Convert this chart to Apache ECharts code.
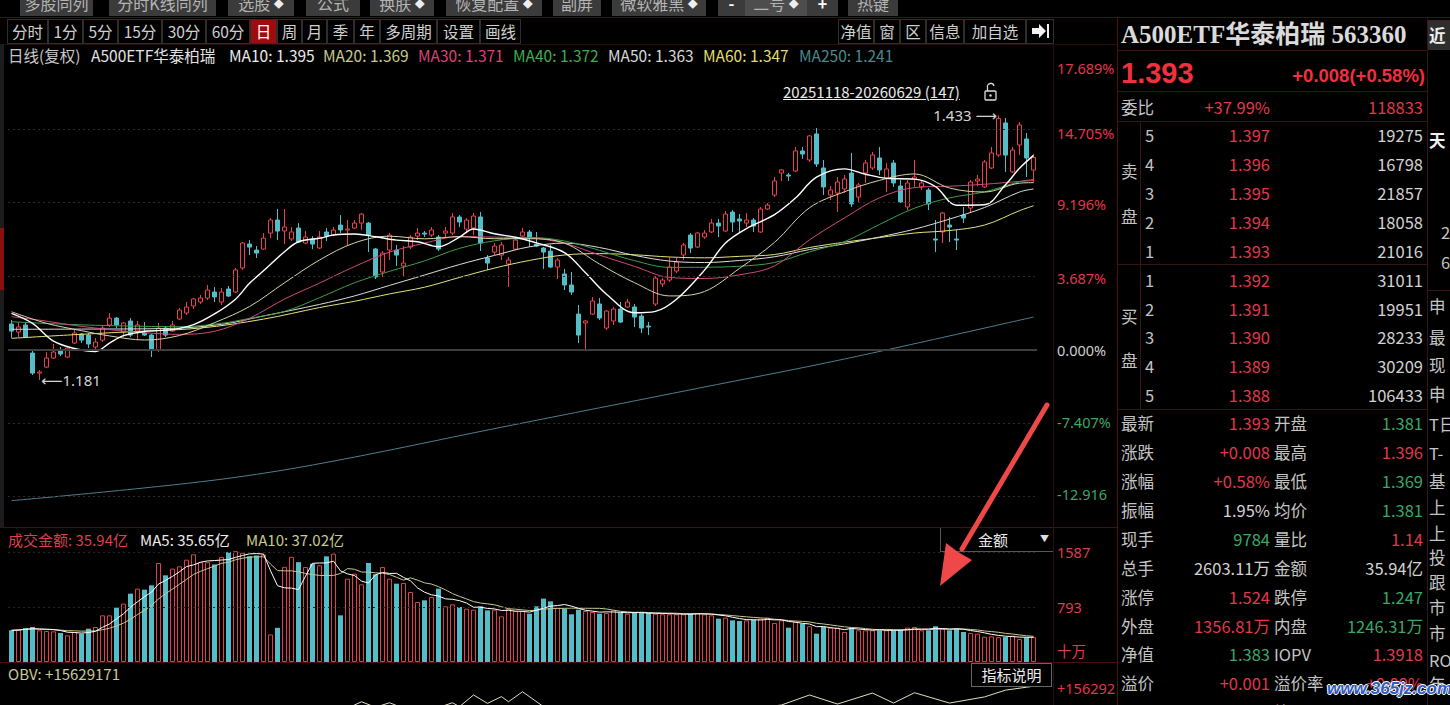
<!DOCTYPE html>
<html lang="zh-CN">
<head>
<meta charset="utf-8">
<title>A500ETF华泰柏瑞 日线</title>
<script src="https://cdn.jsdelivr.net/npm/echarts@6.0.0/dist/echarts.min.js"></script>
<style>
html,body{margin:0;padding:0;background:#000;}
body{width:1450px;height:705px;overflow:hidden;position:relative;font-family:"Noto Sans CJK SC","Noto Sans",sans-serif;color:#c8c8c8;}
#chart{position:absolute;left:0;top:0;width:1118px;height:705px;}
.a{position:absolute;white-space:nowrap;}
.btn{position:absolute;top:-9px;height:25px;line-height:25px;background:#3b3b3b;color:#b4b4b4;font-size:16px;text-align:center;}
.dia{font-size:10px;color:#eee;vertical-align:2px;}
.tab{position:absolute;top:19px;height:25px;line-height:23px;border:1px solid #2e2e2e;box-sizing:border-box;color:#d0d0d0;font-size:15.5px;text-align:center;background:#000;}
.hl{position:absolute;height:1px;}
.vl{position:absolute;width:1px;}
.lg{position:absolute;top:45px;font-size:15.5px;line-height:20px;white-space:nowrap;}
.vg{position:absolute;top:530px;font-size:15px;line-height:20px;white-space:nowrap;}
#ov{position:absolute;left:0;top:0;pointer-events:none;}
</style>
</head>
<body>
<div id="chart"></div>

<!-- top toolbar (cut at top edge) -->
<div class="btn" style="left:20px;width:73px">多股同列</div>
<div class="btn" style="left:109px;width:107px">分时K线同列</div>
<div class="btn" style="left:228px;width:66px">选股 <span class="dia">◆</span></div>
<div class="btn" style="left:306px;width:54px">公式</div>
<div class="btn" style="left:370px;width:64px">换肤 <span class="dia">◆</span></div>
<div class="btn" style="left:446px;width:96px">恢复配置 <span class="dia">◆</span></div>
<div class="btn" style="left:553px;width:48px">副屏</div>
<div class="btn" style="left:612px;width:94px">微软雅黑 <span class="dia">◆</span></div>
<div class="btn" style="left:718px;width:27px;color:#fff;font-weight:bold">-</div>
<div class="btn" style="left:745px;width:62px;background:#4d4d4d">二号 <span class="dia">◆</span></div>
<div class="btn" style="left:807px;width:31px;color:#fff;font-weight:bold">+</div>
<div class="btn" style="left:848px;width:50px">热键</div>
<div class="hl" style="left:0;top:17px;width:1450px;background:#3a1212"></div>

<!-- period tabs -->
<div class="tab" style="left:7px;width:41px">分时</div>
<div class="tab" style="left:48px;width:35px">1分</div>
<div class="tab" style="left:83px;width:35px">5分</div>
<div class="tab" style="left:118px;width:44px">15分</div>
<div class="tab" style="left:162px;width:44px">30分</div>
<div class="tab" style="left:206px;width:44px">60分</div>
<div class="tab" style="left:250px;width:27px;background:#9c0d0d;color:#fff">日</div>
<div class="tab" style="left:277px;width:25px">周</div>
<div class="tab" style="left:302px;width:25px">月</div>
<div class="tab" style="left:327px;width:27px">季</div>
<div class="tab" style="left:354px;width:26px">年</div>
<div class="tab" style="left:380px;width:57px">多周期</div>
<div class="tab" style="left:437px;width:43px">设置</div>
<div class="tab" style="left:480px;width:41px">画线</div>
<div class="tab" style="left:838px;width:36px">净值</div>
<div class="tab" style="left:874px;width:26px">窗</div>
<div class="tab" style="left:900px;width:26px">区</div>
<div class="tab" style="left:926px;width:38px">信息</div>
<div class="tab" style="left:964px;width:62px">加自选</div>
<div class="tab" style="left:1026px;width:28px"></div>
<div class="hl" style="left:0;top:44px;width:1118px;background:#2a0c0c"></div>

<!-- main legend -->
<div class="lg" style="left:8px;color:#c8c8c8">日线(复权)</div>
<div class="lg" style="left:91px;color:#e2e2e2">A500ETF华泰柏瑞</div>
<div class="lg" style="left:229px;color:#ececec">MA10: 1.395</div>
<div class="lg" style="left:323px;color:#c9c98f">MA20: 1.369</div>
<div class="lg" style="left:418px;color:#d9437a">MA30: 1.371</div>
<div class="lg" style="left:513px;color:#3fae4c">MA40: 1.372</div>
<div class="lg" style="left:608px;color:#d8d8d8">MA50: 1.363</div>
<div class="lg" style="left:703px;color:#e3df6c">MA60: 1.347</div>
<div class="lg" style="left:799px;color:#4a8a8e">MA250: 1.241</div>
<div class="a" style="left:783px;top:82px;font-size:15px;line-height:20px;color:#ececec;text-decoration:underline">20251118-20260629 (147)</div>

<!-- volume panel texts -->
<div class="vg" style="left:8px;color:#dc3f4e">成交金额: 35.94亿</div>
<div class="vg" style="left:140px;color:#ececec">MA5: 35.65亿</div>
<div class="vg" style="left:246px;color:#c9c98f">MA10: 37.02亿</div>
<div class="a" style="left:940px;top:528px;width:112px;height:23px;border-left:1px solid #555;border-bottom:1px solid #555;background:#000"></div>
<div class="a" style="left:978px;top:529px;font-size:15px;line-height:22px;color:#e8e8e8">金额</div>
<div class="a" style="left:1040px;top:530px;font-size:9px;line-height:18px;color:#ddd">▼</div>
<div class="vg" style="top:664px;left:8px;color:#c9c99a">OBV: +15629171</div>
<div class="a" style="left:971px;top:663px;width:81px;height:24px;border:1px solid #666;background:#000;box-sizing:border-box;text-align:center;font-size:15px;line-height:22px;color:#ececec">指标说明</div>

<!-- separators -->
<div class="hl" style="left:0;top:527px;width:1118px;background:#4a1010"></div>
<div class="hl" style="left:0;top:662px;width:1118px;background:#4a1010"></div>
<div class="vl" style="left:1053px;top:44px;height:661px;background:#2a0c0c"></div>
<div class="vl" style="left:1117px;top:17px;height:688px;background:#4a1212"></div>
<div class="a" style="left:0;top:44px;width:4px;height:483px;background:#1c1c1c"></div>
<div class="a" style="left:0;top:228px;width:4px;height:62px;background:#8a1010"></div>

<!-- right quote panel lines -->
<div class="hl" style="left:1118px;top:50px;width:309px;background:#3a1414"></div>
<div class="hl" style="left:1118px;top:91px;width:309px;background:#3a1414"></div>
<div class="hl" style="left:1118px;top:121px;width:309px;background:#3a1414"></div>
<div class="hl" style="left:1118px;top:264px;width:309px;background:#3a1414"></div>
<div class="hl" style="left:1118px;top:409px;width:309px;background:#3a1414"></div>
<div class="vl" style="left:1140px;top:121px;height:288px;background:#3a1414"></div>
<div class="vl" style="left:1427px;top:17px;height:688px;background:#3a1414"></div>
<div class="hl" style="left:1427px;top:290px;width:23px;background:#3a1414"></div>
<div class="a" style="left:1428px;top:20px;width:22px;height:30px;background:#2e2e2e"></div>

<div class="a" style="left:1121px;top:19px;font-family:'Liberation Serif','Noto Sans CJK SC',serif;font-weight:bold;font-size:25px;line-height:32px;color:#dadada">A500ETF华泰柏瑞 563360</div>
<div class="a" style="left:1121px;top:56px;font-family:'Liberation Sans',sans-serif;font-weight:bold;font-size:29px;line-height:34px;color:#f0303f">1.393</div>
<div class="a" style="right:25px;top:64px;font-family:'Liberation Sans',sans-serif;font-weight:bold;font-size:18.5px;line-height:24px;color:#f0303f">+0.008(+0.58%)</div>
<div class="a" style="left:1327px;top:679px;font-family:'Liberation Sans',sans-serif;font-weight:bold;font-style:italic;font-size:17px;line-height:20px;color:#2f5cc0;text-shadow:1px 0 #fff,-1px 0 #fff,0 1px #fff,0 -1px #fff;z-index:5">www.365jz.com</div>

<svg id="ov" width="1450" height="705" viewBox="0 0 1450 705">
  <g stroke="#ddd" stroke-width="1.3" fill="none">
    <rect x="985" y="91" width="11" height="9" rx="1"/>
    <path d="M987.5,91 V87.5 A3.3,3.3 0 0 1 994,86"/>
  </g>
  <circle cx="990.5" cy="95.5" r="1.2" fill="#ddd"/>
  <polygon points="1032,28 1039,28 1039,24 1046,31 1039,38 1039,34 1032,34" fill="#f2f2f2"/>
  <rect x="1047" y="24" width="2" height="14" fill="#f2f2f2"/>
  <line x1="1047" y1="405" x2="962" y2="549" stroke="#ef4848" stroke-width="5" stroke-linecap="round"/>
  <polygon points="940,586 946,543 958,552 972,560" fill="#ef4848"/>
</svg>

<script>
// ---------------- data ----------------
const opens = [
1.2343,1.2267,1.2334,1.2067,1.1876,1.1933,1.2019,1.2086,1.2029,1.2162,
1.2248,1.2238,1.2124,1.2190,1.2334,1.2400,1.2267,1.2372,1.2276,1.2257,
1.2238,1.2095,1.2305,1.2276,1.2391,1.2448,1.2515,1.2553,1.2591,1.2648,
1.2553,1.2677,1.2648,1.2877,1.3105,1.3048,1.3057,1.3210,1.3334,1.3229,
1.3153,1.3258,1.3115,1.3153,1.3067,1.3220,1.3191,1.3286,1.3239,1.3258,
1.3305,1.3305,1.3058,1.2839,1.3048,1.3048,1.2896,1.3076,1.3181,1.3210,
1.3191,1.3172,1.3210,1.3210,1.3363,1.3248,1.3258,1.3363,1.2972,1.3029,
1.3000,1.2915,1.3057,1.3181,1.3220,1.3105,1.3067,1.3038,1.2886,1.2820,
1.2715,1.2438,1.2353,1.2438,1.2534,1.2305,1.2372,1.2486,1.2505,1.2505,
1.2419,1.2324,1.2534,1.2725,1.2762,1.2848,1.3001,1.3191,1.3077,1.3172,
1.3220,1.3305,1.3229,1.3410,1.3344,1.3305,1.3334,1.3220,1.3439,1.3572,
1.3782,1.3763,1.3801,1.3992,1.3906,1.4154,1.3830,1.3572,1.3591,1.3630,
1.3782,1.3553,1.3782,1.3830,1.3925,1.3735,1.3877,1.3658,1.3458,1.3725,
1.3649,1.3620,1.3153,1.3220,1.3286,1.3153,1.3382,1.3448,1.3706,1.3649,
1.3830,1.3953,1.4259,1.3792,1.4049,1.4106,1.3810];
const closes = [
1.2276,1.2315,1.2219,1.1876,1.1886,1.2019,1.2076,1.2057,1.2114,1.2257,
1.2190,1.2153,1.2172,1.2305,1.2400,1.2334,1.2353,1.2238,1.2334,1.2238,
1.2095,1.2305,1.2238,1.2334,1.2476,1.2505,1.2582,1.2591,1.2667,1.2601,
1.2648,1.2610,1.2858,1.3115,1.3076,1.3019,1.3162,1.3334,1.3229,1.3267,
1.3220,1.3124,1.3172,1.3105,1.3172,1.3181,1.3239,1.3239,1.3248,1.3305,
1.3391,1.3191,1.2791,1.3019,1.3191,1.3000,1.2924,1.3172,1.3210,1.3200,
1.3239,1.3057,1.3229,1.3363,1.3315,1.3334,1.3372,1.3115,1.2924,1.3086,
1.3096,1.2953,1.3143,1.3220,1.3162,1.3086,1.3029,1.2886,1.2953,1.2715,
1.2648,1.2238,1.2372,1.2562,1.2400,1.2467,1.2486,1.2362,1.2553,1.2410,
1.2305,1.2315,1.2781,1.2762,1.2886,1.2934,1.3096,1.3067,1.3210,1.3210,
1.3305,1.3277,1.3391,1.3315,1.3325,1.3334,1.3277,1.3439,1.3477,1.3706,
1.3811,1.3753,1.3992,1.3963,1.4135,1.3868,1.3649,1.3620,1.3696,1.3725,
1.3487,1.3668,1.3877,1.3953,1.3811,1.3820,1.3687,1.3506,1.3687,1.3744,
1.3687,1.3487,1.3143,1.3401,1.3267,1.3143,1.3353,1.3696,1.3725,1.3887,
1.3973,1.4300,1.3953,1.4001,1.4240,1.3925,1.3930];
const lows = [
1.2212,1.2219,1.2210,1.1857,1.1810,1.1924,1.2010,1.2038,1.2019,1.2153,
1.2162,1.2114,1.2095,1.2172,1.2315,1.2305,1.2219,1.2219,1.2190,1.2229,
1.2029,1.2076,1.2219,1.2267,1.2381,1.2429,1.2486,1.2534,1.2572,1.2553,
1.2524,1.2600,1.2639,1.2858,1.3000,1.2972,1.3048,1.3162,1.3143,1.3105,
1.3134,1.3115,1.3105,1.3057,1.3057,1.3134,1.3181,1.3210,1.3096,1.3248,
1.3239,1.3029,1.2772,1.2791,1.2953,1.2896,1.2791,1.3057,1.3143,1.3172,
1.3172,1.3038,1.3172,1.3191,1.3267,1.3220,1.3191,1.3038,1.2858,1.3000,
1.2953,1.2696,1.3048,1.3172,1.3076,1.3076,1.2868,1.2877,1.2772,1.2667,
1.2620,1.2162,1.2095,1.2429,1.2381,1.2286,1.2334,1.2353,1.2496,1.2315,
1.2257,1.2238,1.2515,1.2696,1.2743,1.2829,1.2953,1.3019,1.3067,1.3153,
1.3210,1.3172,1.3220,1.3220,1.3220,1.3267,1.3220,1.3210,1.3429,1.3553,
1.3706,1.3706,1.3792,1.3916,1.3887,1.3839,1.3572,1.3525,1.3410,1.3591,
1.3458,1.3506,1.3687,1.3811,1.3763,1.3601,1.3649,1.3496,1.3429,1.3649,
1.3620,1.3429,1.3029,1.3115,1.3124,1.3048,1.3305,1.3401,1.3658,1.3639,
1.3820,1.3935,1.3792,1.3782,1.3954,1.3744,1.3690];
const highs = [
1.2381,1.2362,1.2362,1.2105,1.1905,1.2076,1.2153,1.2124,1.2124,1.2286,
1.2257,1.2257,1.2210,1.2334,1.2448,1.2410,1.2362,1.2400,1.2372,1.2362,
1.2248,1.2353,1.2324,1.2372,1.2496,1.2553,1.2591,1.2620,1.2715,1.2696,
1.2686,1.2705,1.2877,1.3124,1.3143,1.3086,1.3210,1.3353,1.3439,1.3439,
1.3267,1.3305,1.3229,1.3181,1.3229,1.3258,1.3267,1.3382,1.3334,1.3334,
1.3401,1.3315,1.3067,1.3038,1.3210,1.3096,1.3086,1.3191,1.3258,1.3229,
1.3267,1.3191,1.3267,1.3401,1.3382,1.3353,1.3401,1.3410,1.3000,1.3115,
1.3124,1.2982,1.3172,1.3258,1.3239,1.3220,1.3076,1.3096,1.2972,1.2868,
1.2839,1.2524,1.2381,1.2601,1.2591,1.2476,1.2505,1.2553,1.2582,1.2534,
1.2438,1.2362,1.2800,1.2782,1.2982,1.2972,1.3115,1.3210,1.3220,1.3239,
1.3344,1.3344,1.3420,1.3429,1.3391,1.3401,1.3353,1.3458,1.3496,1.3744,
1.3820,1.3782,1.4030,1.4030,1.4144,1.4211,1.3906,1.3658,1.3744,1.3763,
1.3973,1.3687,1.3906,1.3982,1.4030,1.3877,1.3906,1.3715,1.3715,1.3906,
1.3715,1.3639,1.3334,1.3410,1.3363,1.3239,1.3458,1.3715,1.3763,1.3906,
1.4030,1.4330,1.4306,1.4030,1.4268,1.4163,1.3960];
// 成交金额 (亿)
const vols = [
45.7,46.6,49.0,50.5,45.7,44.7,44.2,41.8,38.5,43.3,
40.9,48.1,50.5,67.3,67.3,78.4,84.2,98.6,105.8,104.4,
110.6,142.8,125.0,134.7,138.0,147.6,155.3,144.0,144.0,140.7,
151.7,158.4,159.9,157.5,152.6,153.6,155.0,39.7,49.3,137.3,
151.7,144.0,137.0,141.9,139.5,152.4,156.3,67.3,120.2,127.4,
112.0,142.8,126.5,137.0,120.2,113.0,114.0,101.0,86.6,89.0,
93.8,105.8,80.3,83.2,79.3,76.9,75.5,80.3,74.5,75.5,
65.9,76.9,73.6,73.6,69.7,80.3,91.4,87.5,78.4,76.9,
68.8,75.5,73.6,72.1,69.7,70.7,74.5,70.7,69.7,70.7,
70.7,70.7,69.7,68.8,68.8,68.8,68.8,69.7,70.7,68.8,
67.3,62.5,64.0,60.1,59.2,60.1,61.1,62.5,64.0,56.3,
60.1,49.5,57.7,55.3,51.5,40.9,50.5,49.5,49.5,43.3,
49.5,45.7,45.7,45.7,45.7,45.7,45.7,46.6,49.5,50.5,
45.7,45.7,51.5,48.1,45.7,48.1,43.3,41.8,40.9,36.5,
37.0,35.8,36.0,38.0,33.0,35.3,35.94];
// moving-average lines: [candle index, price]
const ma10Pts = [[0,1.2445],[3,1.2350],[6,1.2180],[9,1.2110],[12,1.2082],[14,1.2162],[16,1.2232],[19,1.2272],[23,1.2290],[26,1.2337],[29,1.2439],[32,1.2580],[34,1.2731],[36,1.2850],[39,1.3032],[41,1.3127],[44,1.3160],[46,1.3191],[49,1.3201],[52,1.3175],[55,1.3143],[58,1.3127],[61,1.3080],[64,1.3171],[66,1.3249],[69,1.3203],[72,1.3170],[75,1.3116],[79,1.3024],[82,1.2831],[85,1.2627],[89,1.2450],[92,1.2464],[95,1.2579],[99,1.2857],[102,1.3114],[105,1.3253],[109,1.3385],[112,1.3543],[115,1.3742],[119,1.3821],[122,1.3770],[125,1.3731],[129,1.3724],[132,1.3653],[135,1.3475],[139,1.3479],[142,1.3670],[144,1.3827],[146,1.3950]];
const ma20Pts = [[0,1.2460],[5,1.2350],[10,1.2280],[14,1.2230],[19,1.2191],[24,1.2234],[29,1.2356],[34,1.2510],[39,1.2736],[44,1.2953],[49,1.3116],[54,1.3180],[59,1.3155],[64,1.3175],[69,1.3156],[74,1.3156],[79,1.3114],[84,1.2915],[89,1.2737],[94,1.2611],[99,1.2653],[104,1.2873],[109,1.3121],[114,1.3451],[119,1.3603],[124,1.3712],[129,1.3773],[134,1.3639],[139,1.3601],[144,1.3685],[146,1.3690]];
const ma30Pts = [[0,1.2413],[4,1.2380],[9,1.2330],[14,1.2290],[19,1.2260],[24,1.2245],[29,1.2274],[34,1.2398],[39,1.2581],[44,1.2733],[49,1.2891],[54,1.3028],[59,1.3114],[64,1.3177],[69,1.3171],[74,1.3164],[79,1.3112],[84,1.3000],[89,1.2893],[94,1.2787],[99,1.2777],[104,1.2812],[109,1.2897],[114,1.3145],[119,1.3354],[124,1.3546],[129,1.3643],[134,1.3656],[139,1.3675],[144,1.3702],[146,1.3710]];
const ma40Pts = [[0,1.2365],[8,1.2340],[16,1.2325],[24,1.2318],[30,1.2350],[34,1.2397],[39,1.2463],[44,1.2594],[49,1.2736],[54,1.2845],[59,1.2945],[64,1.3064],[69,1.3136],[74,1.3168],[79,1.3134],[84,1.3045],[89,1.2947],[94,1.2883],[99,1.2884],[104,1.2894],[109,1.2929],[114,1.3031],[119,1.3128],[124,1.3292],[129,1.3447],[134,1.3545],[139,1.3602],[144,1.3699],[146,1.3720]];
const ma50Pts = [[0,1.2293],[10,1.2295],[22,1.2300],[30,1.2340],[36,1.2420],[44,1.2530],[49,1.2611],[54,1.2711],[59,1.2810],[64,1.2910],[69,1.2997],[74,1.3079],[79,1.3114],[84,1.3072],[89,1.2997],[94,1.2943],[99,1.2929],[104,1.2949],[109,1.2984],[114,1.3053],[119,1.3107],[124,1.3172],[129,1.3247],[134,1.3343],[139,1.3453],[144,1.3601],[146,1.3630]];
const ma60Pts = [[0,1.2207],[8,1.2238],[17,1.2270],[27,1.2305],[36,1.2390],[44,1.2500],[49,1.2560],[54,1.2630],[59,1.2694],[64,1.2787],[69,1.2876],[74,1.2949],[79,1.3001],[84,1.3014],[89,1.3003],[94,1.2982],[99,1.2974],[104,1.2988],[109,1.3005],[114,1.3072],[119,1.3123],[124,1.3167],[129,1.3210],[134,1.3234],[139,1.3286],[144,1.3423],[146,1.3470]];
const ma250Pts = [[0,1.0660],[27,1.0840],[43,1.1000],[70,1.1360],[98,1.1730],[119,1.2010],[146,1.2410]];
// OBV (百万), only the top of it is visible
const obvPts = [[0,12.5],[15,12.0],[25,13.2],[35,14.2],[45,14.6],[48,14.95],[50,15.15],[52,14.98],[54,15.12],[56,14.95],[60,14.9],[63,15.12],[64,15.0],[66,15.36],[68,15.1],[70,15.31],[71,15.15],[73,15.46],[76,15.0],[80,14.8],[90,14.3],[100,14.7],[106,14.95],[110,15.05],[114,15.36],[118,15.08],[123,15.42],[126,15.11],[129,15.43],[134,15.11],[139,15.3],[142,15.51],[145,15.6],[146,15.63]];
// right-axis tick labels
const pctTickPrices = [1.4782,1.4163,1.3487,1.2782,1.2096,1.1410,1.0724];
const pctTickLabels = ['17.689%','14.705%','9.196%','3.687%','0.000%','-7.407%','-12.916'];
const gridPrices = [1.4163,1.3477,1.2791,1.2105,1.1419,1.0733];
const volTickVals = [15.9,79.3,158.7];
const volTickLabels = ['十万','793','1587'];
const obvTickVals = [15.58];
const obvTickLabels = ['+156292'];

// ---------------- quote panel ----------------
const sellRows = [['5','1.397','19275'],['4','1.396','16798'],['3','1.395','21857'],['2','1.394','18058'],['1','1.393','21016']];
const buyRows = [['1','1.392','31011'],['2','1.391','19951'],['3','1.390','28233'],['4','1.389','30209'],['5','1.388','106433']];
const statRows = [
 ['最新','1.393','r','开盘','1.381','g'],
 ['涨跌','+0.008','r','最高','1.396','r'],
 ['涨幅','+0.58%','r','最低','1.369','g'],
 ['振幅','1.95%','w','均价','1.381','g'],
 ['现手','9784','g','量比','1.14','r'],
 ['总手','2603.11万','w','金额','35.94亿','w'],
 ['涨停','1.524','r','跌停','1.247','g'],
 ['外盘','1356.81万','r','内盘','1246.31万','g'],
 ['净值','1.383','g','IOPV','1.3918','r'],
 ['溢价','+0.001','r','溢价率','+0.09%','r'],
 ['现价','1.375','g','均价','1.379','w']];
const sideTexts = [['近',35,true],['天',140,true],['申',306],['最',337],['现',365],['申',394],['T日',424],['T-',453],['基',481],['上',507],['上',533],['投',557],['跟',582],['市',607],['市',633],['RO',660],['年',684]];

const PC = {r:'#e0384c', g:'#3aa868', w:'#d2d2d2', l:'#c4c4c4'};
function txt(s, x, yc, o) {
  o = o || {};
  const d = document.createElement('div');
  d.className = 'a';
  d.textContent = s;
  const fs = o.fs || 16.5;
  const lh = fs + 6;
  d.style.fontSize = fs + 'px';
  d.style.lineHeight = lh + 'px';
  d.style.top = (yc - lh / 2) + 'px';
  if (o.right) d.style.right = (1450 - x) + 'px'; else d.style.left = x + 'px';
  d.style.color = o.c || PC.l;
  if (o.b) d.style.fontWeight = 'bold';
  document.body.appendChild(d);
}
txt('委比', 1121, 107);
txt('+37.99%', 1270, 107, {right:true, c:PC.r});
txt('118833', 1423, 107, {right:true, c:PC.r});
txt('卖', 1121, 171); txt('盘', 1121, 216);
txt('买', 1121, 316); txt('盘', 1121, 360);
sellRows.forEach((r, k) => { const y = 135 + 29 * k;
  txt(r[0], 1145, y); txt(r[1], 1270, y, {right:true, c:PC.r}); txt(r[2], 1423, y, {right:true, c:PC.w}); });
buyRows.forEach((r, k) => { const y = 280 + 28.8 * k;
  txt(r[0], 1145, y); txt(r[1], 1270, y, {right:true, c:PC.r}); txt(r[2], 1423, y, {right:true, c:PC.w}); });
statRows.forEach((r, k) => { const y = 423.5 + 28.9 * k;
  txt(r[0], 1121, y); txt(r[1], 1270, y, {right:true, c:PC[r[2]]});
  txt(r[3], 1274, y); txt(r[4], 1423, y, {right:true, c:PC[r[5]]}); });
sideTexts.forEach(t => txt(t[0], 1429, t[1], {b:!!t[2], c:t[2] ? '#f0f0f0' : PC.l}));
txt('2', 1441, 232); txt('6', 1441, 262);

// ---------------- chart ----------------
const RED = '#e8404f', CYAN = '#55bdc7';
const PRICE_MIN = 1.0419, PRICE_MAX = 1.5011, VOL_MAX = 193.3, OBV_MIN = 15.05, OBV_MAX = 15.70;
const FONT = '"Noto Sans","Noto Sans CJK SC","DejaVu Sans",sans-serif';
const cats = opens.map((_, i) => String(i));
const candle = opens.map((o, i) => [o, closes[i], lows[i], highs[i]]);
const up = i => closes[i] >= opens[i];
function movingAvg(arr, n) {
  return arr.map((_, i) => { const s = arr.slice(Math.max(0, i - n + 1), i + 1); return +(s.reduce((a, b) => a + b, 0) / s.length).toFixed(3); });
}
function nearest(vals, labels, v) {
  let k = 0, d = Infinity; vals.forEach((x, i) => { const e = Math.abs(x - Number(v)); if (e < d) { d = e; k = i; } }); return labels[k];
}
const hiddenX = g => ({type:'category', gridIndex:g, data:cats, boundaryGap:true, axisLine:{show:false}, axisTick:{show:false}, axisLabel:{show:false}, splitLine:{show:false}});
const rightAxis = (g, min, max, vals, labels, colorFn) => ({type:'value', gridIndex:g, min, max, position:'right', offset:16,
  axisLine:{show:false}, axisTick:{show:false}, splitLine:{show:false},
  axisLabel:{customValues:vals, margin:4, fontSize:14.5, fontFamily:FONT, formatter:v => nearest(vals, labels, v), color:colorFn}});
const maLine = (pts, color, w) => ({type:'line', xAxisIndex:0, yAxisIndex:0, data:pts, smooth:0.35, showSymbol:false, symbol:'none', lineStyle:{color, width:w || 1}, itemStyle:{color}, z:4, silent:true});

const volData = vols.map((v, i) => ({value:v, itemStyle: up(i) ? {color:'#000', borderColor:'#e0404e', borderWidth:1} : {color:CYAN}}));

const chart = echarts.init(document.getElementById('chart'), null, {renderer:'svg'});
chart.setOption({
  animation:false,
  backgroundColor:'transparent',
  textStyle:{fontFamily:FONT},
  grid:[
    {left:8, top:44, width:1029, height:482, containLabel:false, outerBoundsMode:'none'},
    {left:8, top:528, width:1029, height:134, containLabel:false, outerBoundsMode:'none'},
    {left:8, top:684, width:1029, height:21, containLabel:false, outerBoundsMode:'none'}
  ],
  xAxis:[hiddenX(0), hiddenX(1), hiddenX(2)],
  yAxis:[
    {type:'value', gridIndex:0, min:PRICE_MIN, max:PRICE_MAX, show:false},
    rightAxis(0, PRICE_MIN, PRICE_MAX, pctTickPrices, pctTickLabels, v => { const s = nearest(pctTickPrices, pctTickLabels, v); return s.charAt(0) === '-' ? '#3aa868' : (s === '0.000%' ? '#cfcfcf' : '#e0384c'); }),
    rightAxis(1, 0, VOL_MAX, volTickVals, volTickLabels, () => '#d8404e'),
    rightAxis(2, OBV_MIN, OBV_MAX, obvTickVals, obvTickLabels, () => '#e0384c')
  ],
  series:[
    {type:'candlestick', xAxisIndex:0, yAxisIndex:0, data:candle, barWidth:5, z:2,
     itemStyle:{color:'#000', color0:CYAN, borderColor:RED, borderColor0:CYAN, borderWidth:1},
     markLine:{silent:true, symbol:['none','none'], label:{show:false}, animation:false,
       data:gridPrices.map((p, k) => ({yAxis:p, lineStyle: k === 3 ? {color:'#3e3e3e', width:2, type:'solid'} : {color:'#2a2a2a', width:1, type:[2,3]}}))},
     markPoint:{symbol:'circle', symbolSize:1, itemStyle:{color:'rgba(0,0,0,0)'}, animation:false, data:[
       {type:'max', valueDim:'highest', label:{position:'left', distance:1, color:'#d4d4d4', fontSize:15, formatter:p => Number(p.value).toFixed(3) + ' ⟶'}},
       {type:'min', valueDim:'lowest', label:{position:'right', distance:1, color:'#d4d4d4', fontSize:15, formatter:p => '⟵' + Number(p.value).toFixed(3)}}
     ]}},
    maLine(ma250Pts, '#4c7f8c', 1),
    maLine(ma60Pts, '#e6e27a', 1),
    maLine(ma50Pts, '#dcdcdc', 1),
    maLine(ma40Pts, '#3c9e48', 1),
    maLine(ma30Pts, '#cf4a7c', 1),
    maLine(ma20Pts, '#d6d6a0', 1),
    maLine(ma10Pts, '#ffffff', 1.4),
    {type:'bar', xAxisIndex:1, yAxisIndex:2, data:volData, barWidth:5, z:2,
     markLine:{silent:true, symbol:['none','none'], label:{show:false}, animation:false,
       data:volTickVals.slice(1).map(v => ({yAxis:v, lineStyle:{color:'#262626', width:1, type:[2,3]}}))}},
    {type:'line', xAxisIndex:1, yAxisIndex:2, data:movingAvg(vols, 10), showSymbol:false, symbol:'none', lineStyle:{color:'#c8c88c', width:1}, z:4, silent:true},
    {type:'line', xAxisIndex:1, yAxisIndex:2, data:movingAvg(vols, 5), showSymbol:false, symbol:'none', lineStyle:{color:'#ffffff', width:1}, z:5, silent:true},
    {type:'line', xAxisIndex:2, yAxisIndex:3, data:obvPts, showSymbol:false, symbol:'none', lineStyle:{color:'#e0dcc0', width:1}, z:4, silent:true, clip:true}
  ]
});
</script>
</body>
</html>
